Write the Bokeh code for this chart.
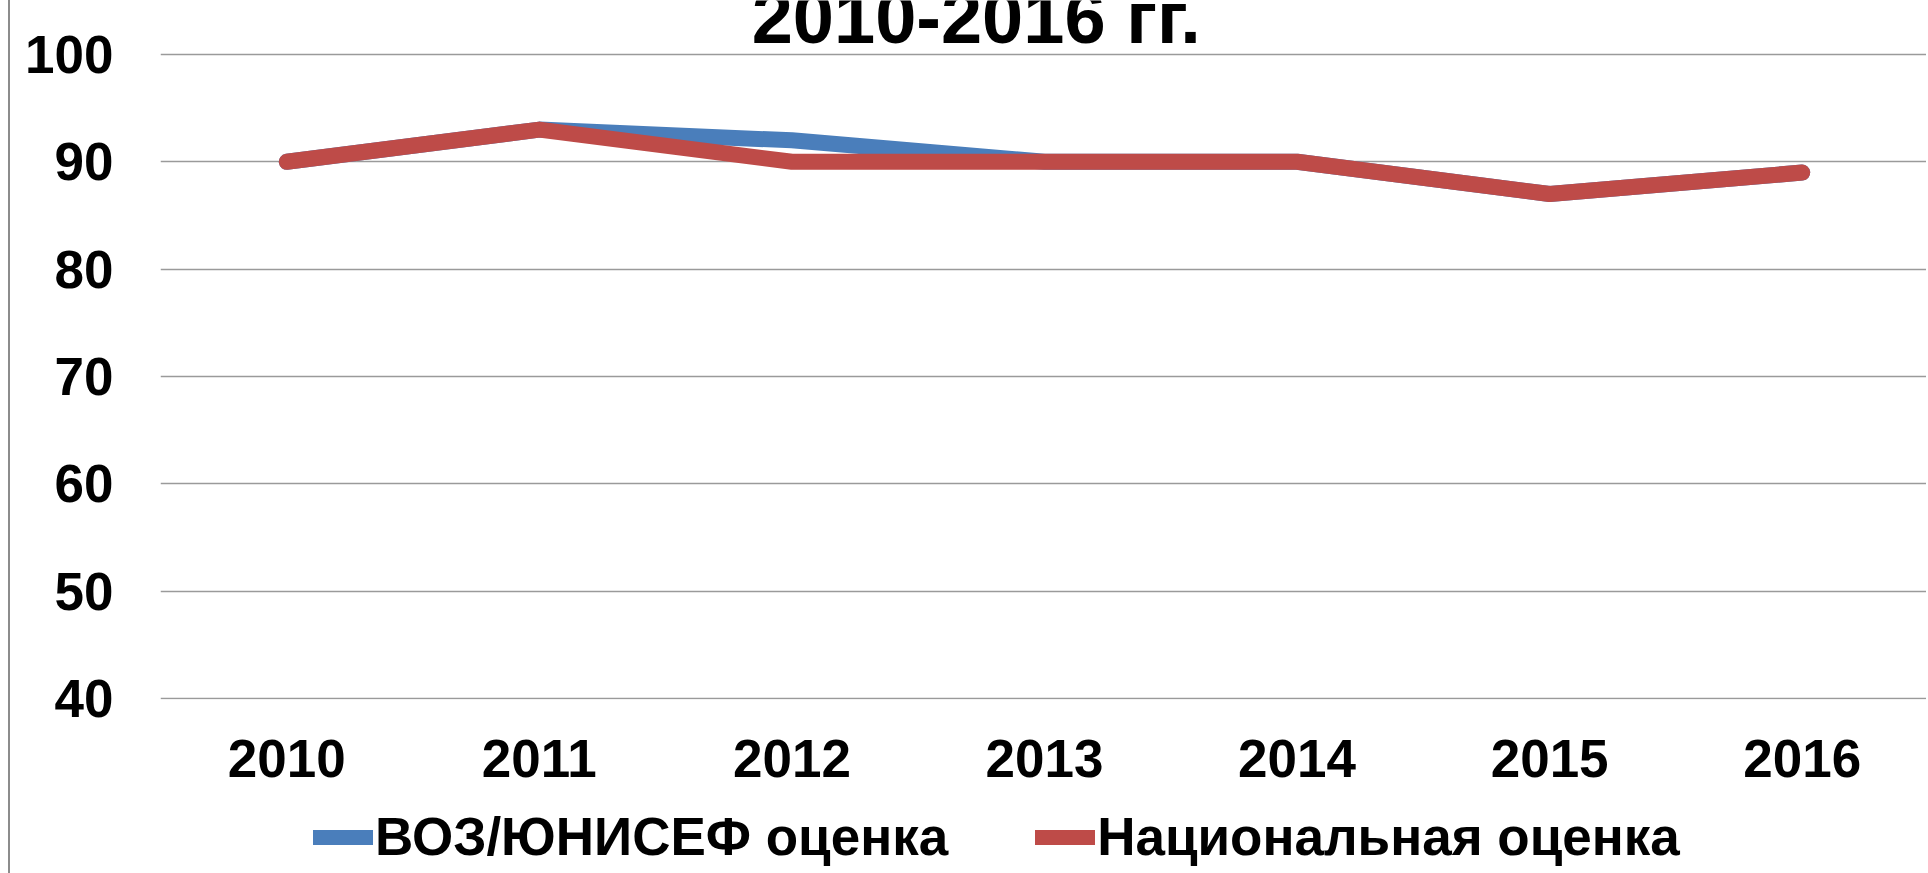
from bokeh.plotting import figure
from bokeh.layouts import column
from bokeh.models import Range1d, Legend, LegendItem, Label, FixedTicker, ColumnDataSource
from bokeh.embed import file_html
from bokeh.resources import INLINE

years = ["2010", "2011", "2012", "2013", "2014", "2015", "2016"]
who_unicef = [90, 93, 92, 90, 90, 87, 89]
national = [90, 93, 90, 90, 90, 87, 89]
y_ticks = [40, 50, 60, 70, 80, 90, 100]
title_text = "2010-2016 гг."
series_names = ["ВОЗ/ЮНИСЕФ оценка", "Национальная оценка"]

FONT = "Liberation Sans"
BLUE = "#4A7EBB"
RED = "#BE4B48"
BORDER = {"border-left": "2px solid #8c8c8c", "margin-left": "8px"}

xs = list(range(len(years)))
src = ColumnDataSource(dict(x=xs, who=who_unicef, nat=national))

p = figure(width=1918, height=800, output_backend="svg", toolbar_location=None,
           x_range=Range1d(-0.5, len(years) - 0.5), y_range=Range1d(39.93, 105.02),
           min_border_left=150, min_border_right=0, min_border_top=0, min_border_bottom=101)
p.outline_line_color = None
p.styles = BORDER

r1 = p.line("x", "who", source=src, line_color=BLUE, line_width=16, line_cap="round", line_join="round")
r2 = p.line("x", "nat", source=src, line_color=RED, line_width=16, line_cap="round", line_join="round")

p.xaxis.ticker = FixedTicker(ticks=xs)
p.xaxis.major_label_overrides = {i: y for i, y in enumerate(years)}
p.yaxis.ticker = FixedTicker(ticks=y_ticks)
for ax in (p.xaxis[0], p.yaxis[0]):
    ax.axis_line_color = None
    ax.major_tick_line_color = None
    ax.minor_tick_line_color = None
    ax.major_tick_out = 0
    ax.major_label_text_font = FONT
    ax.major_label_text_font_style = "bold"
    ax.major_label_text_font_size = "53px"
    ax.major_label_text_color = "black"
p.xaxis.major_label_standoff = 40
p.yaxis.major_label_standoff = 47

p.xgrid.grid_line_color = None
p.ygrid.ticker = FixedTicker(ticks=y_ticks)
p.ygrid.grid_line_color = "#9a9a9a"
p.ygrid.grid_line_width = 1.5

title = Label(x=2.73, y=103.45, text=title_text, text_font=FONT, text_font_style="bold",
              text_font_size="74px", text_align="center", text_baseline="alphabetic", text_color="black")
p.add_layout(title)

# legend strip below the chart (dummy renderers kept outside the visible range)
p2 = figure(width=1918, height=73, output_backend="svg", toolbar_location=None,
            x_range=Range1d(1000, 1001), y_range=Range1d(1000, 1001),
            min_border_left=0, min_border_right=0, min_border_top=0, min_border_bottom=0)
p2.axis.visible = False
p2.grid.visible = False
p2.outline_line_color = None
p2.styles = BORDER
l1 = p2.line("x", "who", source=src, line_color=BLUE, line_width=15, line_cap="round")
l2 = p2.line("x", "nat", source=src, line_color=RED, line_width=15, line_cap="round")

legend = Legend(items=[LegendItem(label=series_names[0], renderers=[l1]),
                       LegendItem(label=series_names[1], renderers=[l2])],
                location=(153, 6), orientation="horizontal",
                label_text_font=FONT, label_text_font_style="bold", label_text_font_size="53px",
                label_text_color="black", glyph_width=60, glyph_height=40, label_standoff=2,
                spacing=87, padding=0, margin=0, border_line_color=None, background_fill_alpha=0)
p2.add_layout(legend, "center")

open("out.html", "w").write(file_html(column(p, p2, spacing=0), INLINE))
